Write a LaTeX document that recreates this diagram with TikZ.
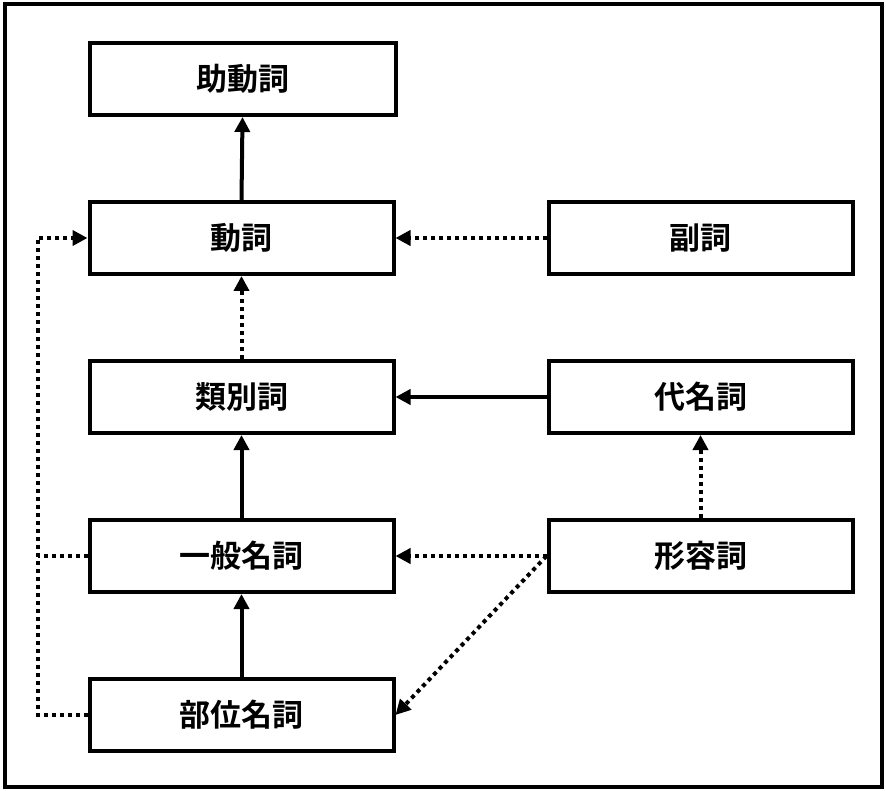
\documentclass[tikz,border=0pt]{standalone}
\usepackage{fontspec}
\setmainfont{Noto Sans CJK JP}[BoldFont={Noto Sans CJK JP Bold}]
\usetikzlibrary{arrows.meta}
\begin{document}
\begin{tikzpicture}[x=1pt,y=-1pt,
  wordbox/.style={draw,line width=4pt,minimum width=304pt,minimum height=72pt,
    inner sep=0pt,font=\fontsize{31}{36}\selectfont\bfseries},
  link/.style={line width=4pt,-{Triangle[length=15pt,width=15pt]}},
  dotlink/.style={link,dash pattern=on 4pt off 4pt},
  plain/.style={line width=4pt,dash pattern=on 4pt off 4pt}]
\useasboundingbox (0,0) rectangle (886,791);
\draw[line width=4pt] (4.5,4.5) rectangle (881.5,786.5);
% left column
\node[wordbox,minimum width=306pt] (aux) at (242.5,79) {助動詞};
\node[wordbox] (verb) at (241.5,238) {動詞};
\node[wordbox] (clf)  at (241.5,397) {類別詞};
\node[wordbox] (noun) at (241.5,556) {一般名詞};
\node[wordbox] (part) at (241.5,715) {部位名詞};
% right column
\node[wordbox] (adv)  at (700.5,238) {副詞};
\node[wordbox] (pron) at (700.5,397) {代名詞};
\node[wordbox] (adj)  at (700.5,556) {形容詞};
% bend points of the left-hand link
\coordinate (bendN) at (38,556);
\coordinate (bendP) at (38,715);
% connectors
\draw[link] (verb.north) -- (aux.south);
\draw[dotlink] (adv.west) -- (verb.east);
\draw[dotlink] (clf.north) -- (verb.south);
\draw[link] (pron.west) -- (clf.east);
\draw[link] (noun.north) -- (clf.south);
\draw[dotlink] (adj.north) -- (pron.south);
\draw[dotlink] (adj.west) -- (noun.east);
\draw[dotlink] (adj.west) -- (part.east);
\draw[link] (part.north) -- (noun.south);
\draw[dotlink] (part.west) -- (bendP) |- (verb.west);
\draw[plain] (noun.west) -- (bendN);
\end{tikzpicture}
\end{document}
